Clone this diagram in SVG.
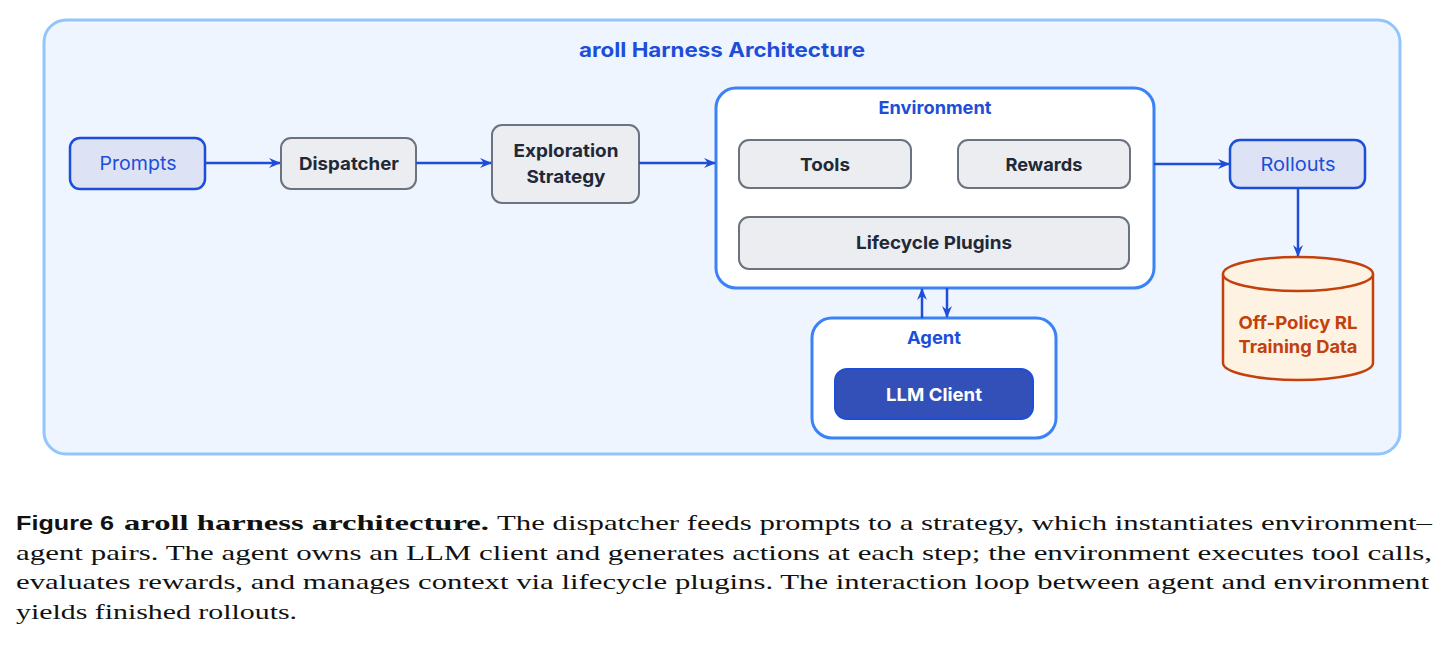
<svg xmlns="http://www.w3.org/2000/svg" width="1447" height="654" viewBox="0 0 1447 654">
<style>
.lbl{font-family:Inter,"Liberation Sans",sans-serif;font-weight:700;font-size:18px;fill:#1f2937;text-anchor:middle;dominant-baseline:central}
.io{fill:#dde3f4;stroke:#1d4ed8;stroke-width:2.5}
.iotxt{font-family:Inter,"Liberation Sans",sans-serif;font-size:19px;fill:#1d4ed8;text-anchor:middle;dominant-baseline:central}
.gray{fill:#ebedf0;stroke:#6b7280;stroke-width:2}
.cont{fill:#ffffff;stroke:#3b82f6;stroke-width:3}
.ctitle{font-family:Inter,"Liberation Sans",sans-serif;font-weight:700;font-size:18px;fill:#1d4ed8;text-anchor:middle;dominant-baseline:central}
.edge{stroke:#1d4ed8;stroke-width:2.5;fill:none;marker-end:url(#ah)}
.cap{font-family:"Liberation Serif",serif;font-size:22px;fill:#111}
</style>
<defs>
<marker id="ah" markerWidth="12" markerHeight="10" refX="11" refY="5" orient="auto" markerUnits="userSpaceOnUse">
<path d="M0,0 L12,5 L0,10 L4,5 Z" fill="#1d4ed8"/>
</marker>
</defs>
<g id="harness">
<rect x="44" y="20" width="1356" height="434" rx="22" fill="#eef5fe" stroke="#93c5fd" stroke-width="3"/>
<text x="722" y="50" class="ctitle" style="font-size:20px" textLength="286" lengthAdjust="spacingAndGlyphs">aroll Harness Architecture</text>
</g>
<g id="prompts">
<rect x="70" y="138" width="135" height="51" rx="10" class="io"/>
<text x="138" y="163" class="iotxt" textLength="77" lengthAdjust="spacingAndGlyphs">Prompts</text>
</g>
<g id="dispatcher">
<rect x="281" y="138" width="135" height="51" rx="10" class="gray"/>
<text x="349" y="163" class="lbl" textLength="100" lengthAdjust="spacingAndGlyphs">Dispatcher</text>
</g>
<g id="exploration">
<rect x="492" y="125" width="147" height="78" rx="10" class="gray"/>
<text x="566" y="150" class="lbl" textLength="105" lengthAdjust="spacingAndGlyphs">Exploration</text>
<text x="566" y="176" class="lbl" textLength="79" lengthAdjust="spacingAndGlyphs">Strategy</text>
</g>
<g id="environment">
<rect x="716" y="88" width="438" height="200" rx="20" class="cont"/>
<text x="935" y="107" class="ctitle" textLength="113" lengthAdjust="spacingAndGlyphs">Environment</text>
</g>
<g id="tools">
<rect x="739" y="140" width="172" height="48" rx="10" class="gray"/>
<text x="825" y="164" class="lbl" textLength="50" lengthAdjust="spacingAndGlyphs">Tools</text>
</g>
<g id="rewards">
<rect x="958" y="140" width="172" height="48" rx="10" class="gray"/>
<text x="1044" y="164" class="lbl" textLength="77" lengthAdjust="spacingAndGlyphs">Rewards</text>
</g>
<g id="lifecycle">
<rect x="739" y="217" width="390" height="52" rx="10" class="gray"/>
<text x="934" y="242" class="lbl" textLength="156" lengthAdjust="spacingAndGlyphs">Lifecycle Plugins</text>
</g>
<g id="rollouts">
<rect x="1230" y="140" width="135" height="48" rx="10" class="io"/>
<text x="1298" y="164" class="iotxt" textLength="75" lengthAdjust="spacingAndGlyphs">Rollouts</text>
</g>
<g id="trainingdata">
<path d="M1223,274 L1223,363 A75,17 0 0 0 1373,363 L1373,274" fill="#fef3e2" stroke="#c2410c" stroke-width="2.5"/>
<ellipse cx="1298" cy="274" rx="75" ry="17" fill="#fef3e2" stroke="#c2410c" stroke-width="2.5"/>
<text x="1298" y="322" class="lbl" style="fill:#c2410c" textLength="119" lengthAdjust="spacingAndGlyphs">Off-Policy RL</text>
<text x="1298" y="346" class="lbl" style="fill:#c2410c" textLength="119" lengthAdjust="spacingAndGlyphs">Training Data</text>
</g>
<g id="agent">
<rect x="812" y="318" width="244" height="120" rx="20" class="cont"/>
<text x="934" y="337" class="ctitle" textLength="54" lengthAdjust="spacingAndGlyphs">Agent</text>
</g>
<g id="llmclient">
<rect x="835" y="369" width="198" height="50" rx="12" fill="#3350b8" stroke="#1d4ed8" stroke-width="2"/>
<text x="934" y="394" class="lbl" style="fill:#ffffff" textLength="96" lengthAdjust="spacingAndGlyphs">LLM Client</text>
</g>
<g id="connectors">
<line x1="205" y1="163" x2="280" y2="163" class="edge"/>
<line x1="416" y1="163" x2="491" y2="163" class="edge"/>
<line x1="639" y1="163" x2="715" y2="163" class="edge"/>
<line x1="1154" y1="164" x2="1229" y2="164" class="edge"/>
<line x1="1298" y1="188" x2="1298" y2="256" class="edge"/>
<line x1="922" y1="318" x2="922" y2="289" class="edge"/>
<line x1="947" y1="288" x2="947" y2="317" class="edge"/>
</g>
<g id="caption">
<text x="16" y="530" class="cap" style="font-family:'Liberation Sans',sans-serif;font-weight:700;font-size:21px" textLength="98" lengthAdjust="spacingAndGlyphs">Figure 6</text>
<text x="124" y="530" class="cap" style="font-weight:700" textLength="365" lengthAdjust="spacingAndGlyphs">aroll harness architecture.</text>
<text x="497" y="530" class="cap" textLength="935" lengthAdjust="spacingAndGlyphs">The dispatcher feeds prompts to a strategy, which instantiates environment–</text>
<text x="16" y="560" class="cap" textLength="1416" lengthAdjust="spacingAndGlyphs">agent pairs. The agent owns an LLM client and generates actions at each step; the environment executes tool calls,</text>
<text x="16" y="589" class="cap" textLength="1413" lengthAdjust="spacingAndGlyphs">evaluates rewards, and manages context via lifecycle plugins. The interaction loop between agent and environment</text>
<text x="16" y="619" class="cap" textLength="281" lengthAdjust="spacingAndGlyphs">yields finished rollouts.</text>
</g>
</svg>
